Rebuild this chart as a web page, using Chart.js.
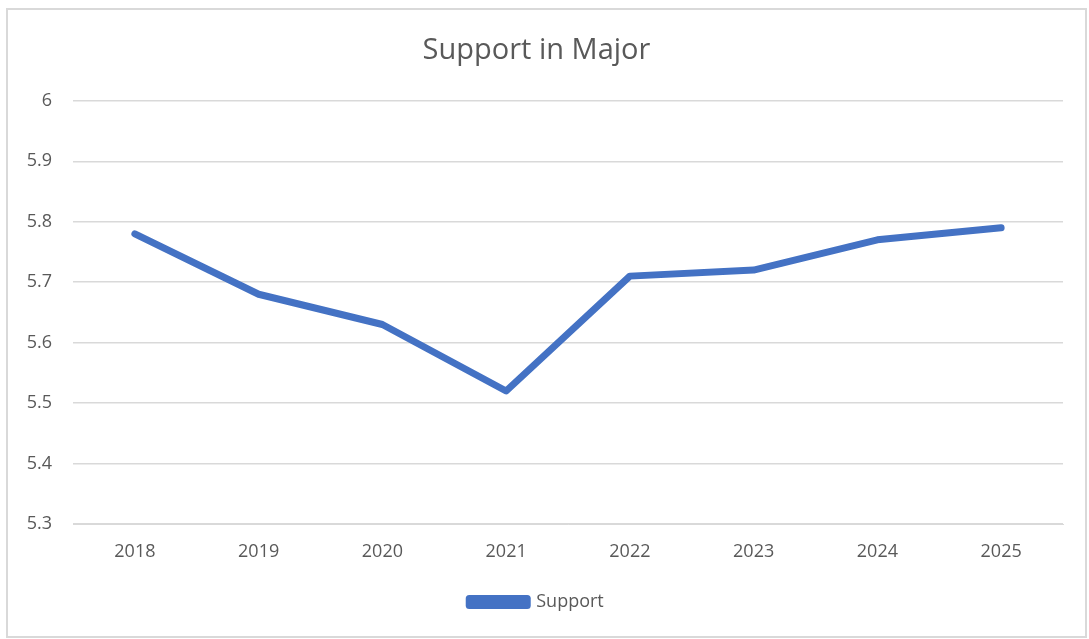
<!DOCTYPE html>
<html>
<head>
<meta charset="utf-8">
<script src="https://cdn.jsdelivr.net/npm/chart.js@4.4.1/dist/chart.umd.min.js"></script>
<style>
  html, body { margin: 0; padding: 0; background: #fff; }
  #wrap { position: relative; width: 1089px; height: 639px; }
  #frame { position: absolute; left: 6px; top: 8px; width: 1077px; height: 626px;
           border: 2px solid #d9d9d9; pointer-events: none; }
</style>
</head>
<body>
<div id="wrap">
  <canvas id="chart" width="1089" height="639"></canvas>
  <div id="frame"></div>
</div>
<script>
// Chart data
const years = ['2018', '2019', '2020', '2021', '2022', '2023', '2024', '2025'];
const supportValues = [5.78, 5.68, 5.63, 5.52, 5.71, 5.72, 5.77, 5.79];
const yMin = 5.3;
const yMax = 6;
const yStep = 0.1;

const textColor = '#595959';
const gridColor = '#d9d9d9';
const lineColor = '#4472c4';
const fontFamily = '"Open Sans", "Noto Sans", sans-serif';

Chart.defaults.font.family = fontFamily;
Chart.defaults.color = textColor;

const supportChart = new Chart(
    document.getElementById('chart'),
    {
        type: 'line',
        data: {
            labels: years,
            datasets: [
                {
                    label: 'Support',
                    data: supportValues,
                    borderColor: lineColor,
                    backgroundColor: lineColor,
                    borderWidth: 7,
                    borderCapStyle: 'round',
                    borderJoinStyle: 'round',
                    pointRadius: 0,
                    pointHoverRadius: 0,
                    tension: 0
                }
            ]
        },
        options: {
            responsive: false,
            animation: false,
            layout: {
                padding: { left: 10, right: 26, top: 0, bottom: 18 }
            },
            plugins: {
                title: {
                    display: true,
                    text: 'Support in Major',
                    color: textColor,
                    font: { size: 29, weight: 'normal' },
                    padding: { top: 33, bottom: 33 }
                },
                legend: {
                    position: 'bottom',
                    labels: {
                        color: textColor,
                        font: { size: 18 },
                        boxWidth: 58,
                        boxHeight: 7,
                        padding: 10
                    }
                },
                tooltip: { enabled: false }
            },
            scales: {
                x: {
                    offset: true,
                    grid: { display: false, drawTicks: false },
                    border: { display: true, color: gridColor, width: 1 },
                    ticks: {
                        color: textColor,
                        font: { size: 18 },
                        padding: 17
                    },
                    afterFit: (scale) => { scale.height = 59; }
                },
                y: {
                    min: yMin,
                    max: yMax,
                    grid: { color: gridColor, lineWidth: 1.5, drawTicks: false },
                    border: { display: false },
                    ticks: {
                        stepSize: yStep,
                        color: textColor,
                        font: { size: 18 },
                        padding: 21,
                        callback: (v) => Number(v.toFixed(1)).toString()
                    },
                    afterFit: (scale) => { scale.width = 63; }
                }
            }
        }
    }
);
</script>
</body>
</html>
